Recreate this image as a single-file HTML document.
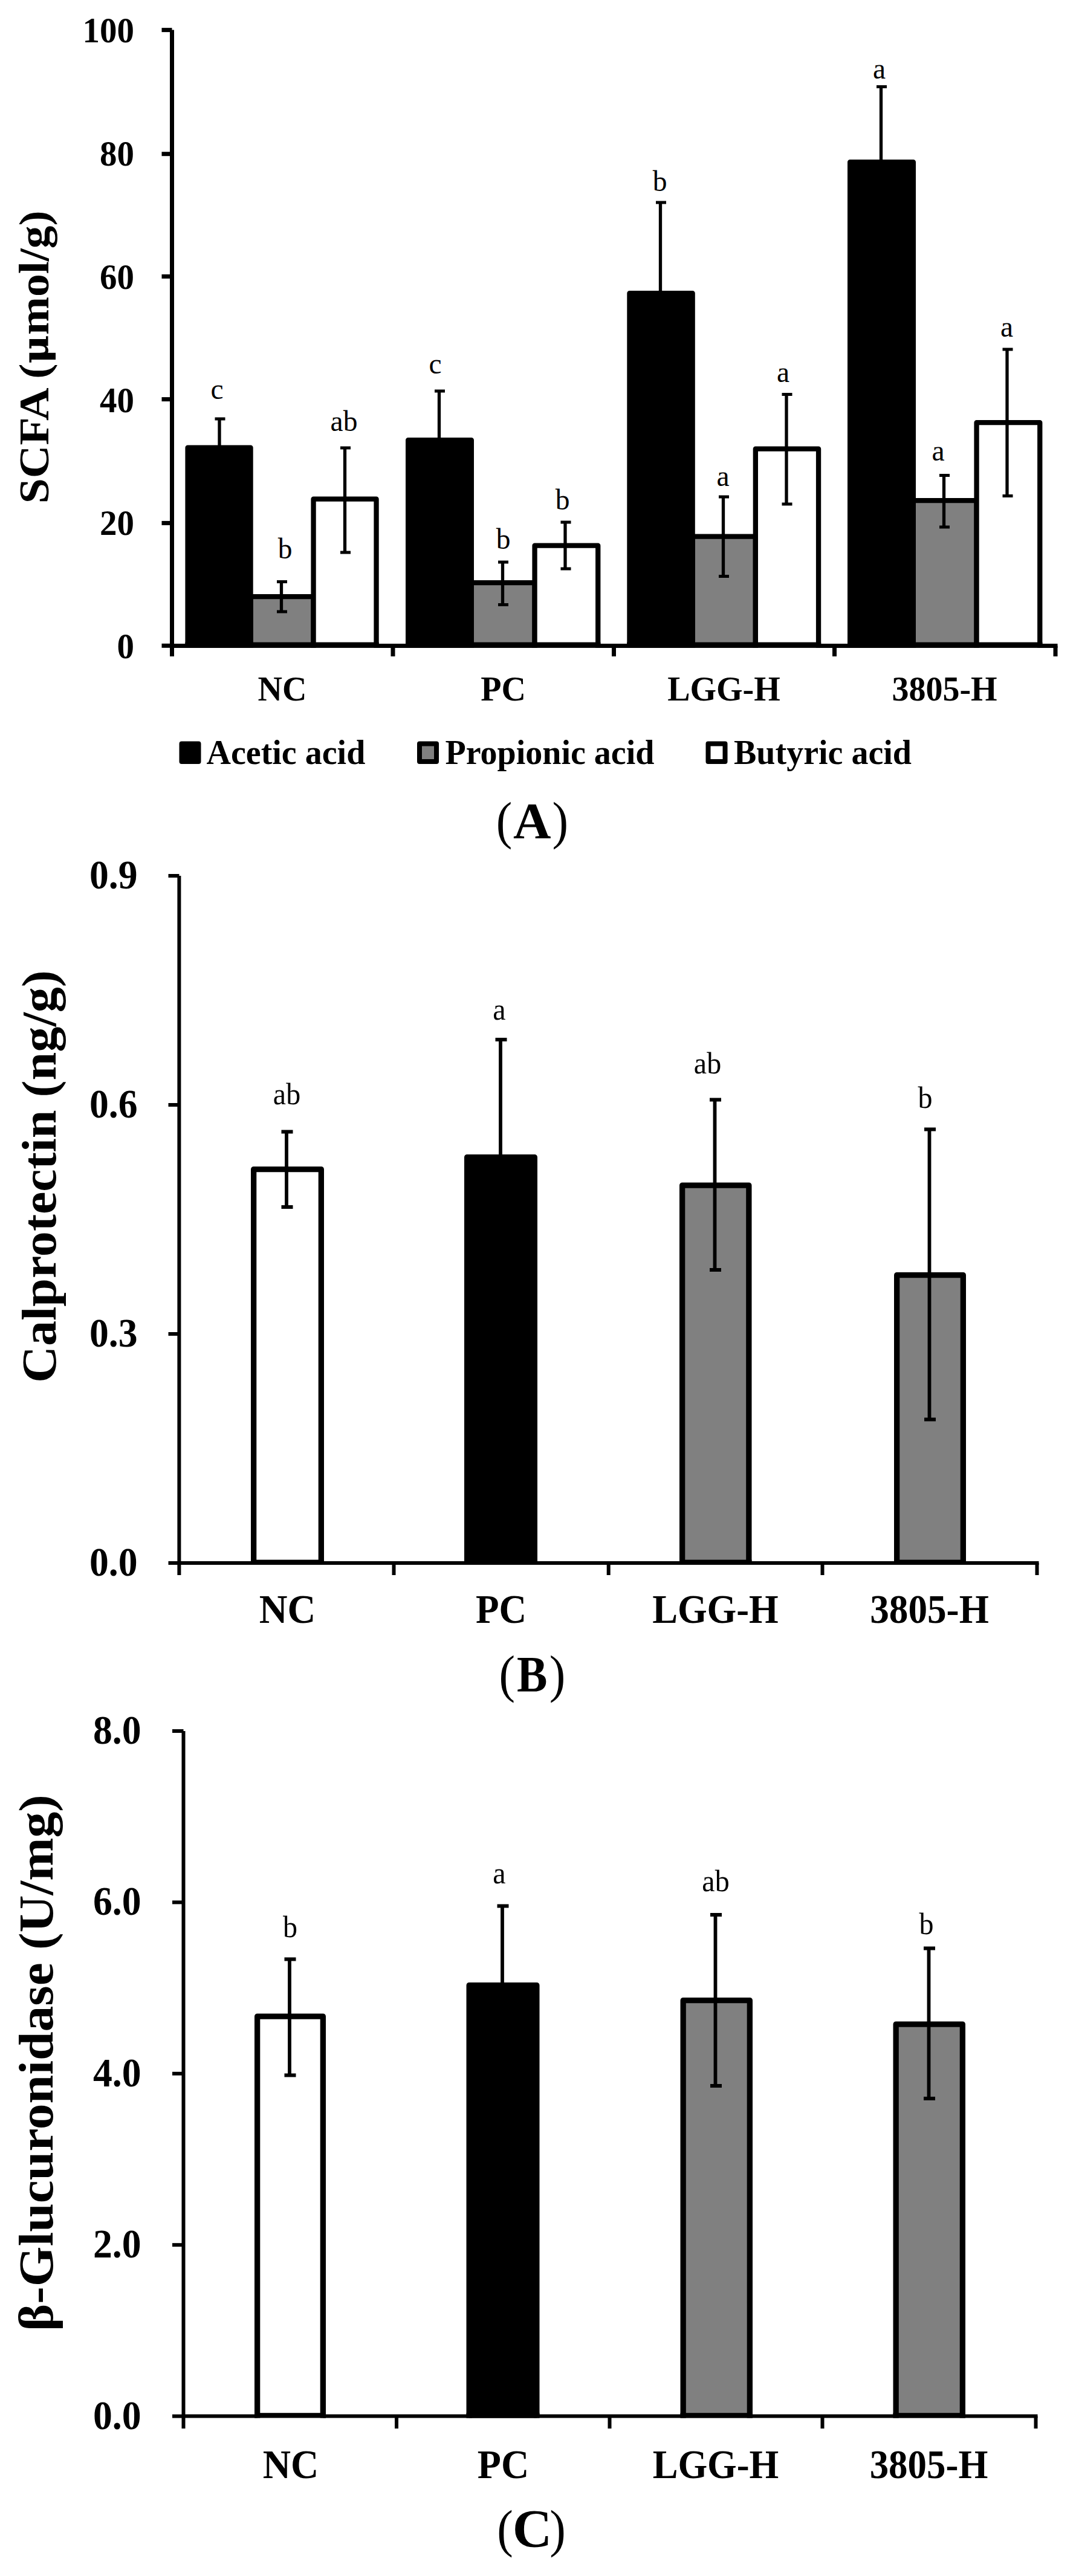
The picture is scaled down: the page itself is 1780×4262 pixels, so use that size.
<!DOCTYPE html>
<html lang="en"><head><meta charset="utf-8"><title>Figure</title>
<style>
html,body{margin:0;padding:0;background:#fff}
svg{display:block}
text{font-family:"Liberation Serif","DejaVu Serif",serif;fill:#000}
.b{font-weight:bold}
.r{font-weight:normal}
</style></head><body>
<svg width="1780" height="4262" viewBox="0 0 1780 4262">
<rect width="1780" height="4262" fill="#fff"/>
<path d="M284.5 49.6V1086" stroke="#000" stroke-width="7" fill="none"/>
<path d="M267.5 49.60H284.5" stroke="#000" stroke-width="7" fill="none"/>
<text transform="translate(222 70.2) scale(1 1.045)" font-size="57" text-anchor="end" class="b">100</text>
<path d="M267.5 254.70H284.5" stroke="#000" stroke-width="7" fill="none"/>
<text transform="translate(222 274.0) scale(1 1.045)" font-size="57" text-anchor="end" class="b">80</text>
<path d="M267.5 457.40H284.5" stroke="#000" stroke-width="7" fill="none"/>
<text transform="translate(222 477.7) scale(1 1.045)" font-size="57" text-anchor="end" class="b">60</text>
<path d="M267.5 660.60H284.5" stroke="#000" stroke-width="7" fill="none"/>
<text transform="translate(222 681.5) scale(1 1.045)" font-size="57" text-anchor="end" class="b">40</text>
<path d="M267.5 865.40H284.5" stroke="#000" stroke-width="7" fill="none"/>
<text transform="translate(222 885.2) scale(1 1.045)" font-size="57" text-anchor="end" class="b">20</text>
<path d="M267.5 1068.30H284.5" stroke="#000" stroke-width="7" fill="none"/>
<text transform="translate(222 1089.0) scale(1 1.045)" font-size="57" text-anchor="end" class="b">0</text>
<path d="M284.5 1068.40H1749.5" stroke="#000" stroke-width="7" fill="none"/>
<path d="M650 1068.40V1086" stroke="#000" stroke-width="7" fill="none"/>
<path d="M1015.5 1068.40V1086" stroke="#000" stroke-width="7" fill="none"/>
<path d="M1380.5 1068.40V1086" stroke="#000" stroke-width="7" fill="none"/>
<path d="M1746 1068.40V1086" stroke="#000" stroke-width="7" fill="none"/>
<text transform="translate(80.3 590.75) rotate(-90) scale(1.08 1)" font-size="70" text-anchor="middle" class="b">SCFA (<tspan style="font-family:'DejaVu Serif',serif" font-size="60">μ</tspan>mol/g)</text>
<clipPath id="cA"><rect x="0" y="0" width="1780" height="1071.90"/></clipPath><g clip-path="url(#cA)">
<rect x="414.55" y="987.15" width="104.00" height="104.75" fill="#808080" stroke="#000" stroke-width="8.3" stroke-linejoin="round"/>
<rect x="410.40" y="1062.60" width="112.30" height="9.3" fill="#000"/>
<rect x="310.55" y="740.65" width="104.00" height="351.25" fill="#000" stroke="#000" stroke-width="8.3" stroke-linejoin="round"/>
<rect x="306.40" y="1062.60" width="112.30" height="9.3" fill="#000"/>
<rect x="518.55" y="825.65" width="104.00" height="266.25" fill="#fff" stroke="#000" stroke-width="8.3" stroke-linejoin="round"/>
<rect x="514.40" y="1062.60" width="112.30" height="9.3" fill="#000"/>
<rect x="779.85" y="964.15" width="104.70" height="127.75" fill="#808080" stroke="#000" stroke-width="8.3" stroke-linejoin="round"/>
<rect x="775.70" y="1062.60" width="113.00" height="9.3" fill="#000"/>
<rect x="675.15" y="728.15" width="104.70" height="363.75" fill="#000" stroke="#000" stroke-width="8.3" stroke-linejoin="round"/>
<rect x="671.00" y="1062.60" width="113.00" height="9.3" fill="#000"/>
<rect x="884.55" y="902.65" width="104.70" height="189.25" fill="#fff" stroke="#000" stroke-width="8.3" stroke-linejoin="round"/>
<rect x="880.40" y="1062.60" width="113.00" height="9.3" fill="#000"/>
<rect x="1145.65" y="887.65" width="104.20" height="204.25" fill="#808080" stroke="#000" stroke-width="8.3" stroke-linejoin="round"/>
<rect x="1141.50" y="1062.60" width="112.50" height="9.3" fill="#000"/>
<rect x="1041.45" y="485.15" width="104.20" height="606.75" fill="#000" stroke="#000" stroke-width="8.3" stroke-linejoin="round"/>
<rect x="1037.30" y="1062.60" width="112.50" height="9.3" fill="#000"/>
<rect x="1249.85" y="742.65" width="104.20" height="349.25" fill="#fff" stroke="#000" stroke-width="8.3" stroke-linejoin="round"/>
<rect x="1245.70" y="1062.60" width="112.50" height="9.3" fill="#000"/>
<rect x="1510.85" y="828.15" width="104.70" height="263.75" fill="#808080" stroke="#000" stroke-width="8.3" stroke-linejoin="round"/>
<rect x="1506.70" y="1062.60" width="113.00" height="9.3" fill="#000"/>
<rect x="1406.15" y="268.15" width="104.70" height="823.75" fill="#000" stroke="#000" stroke-width="8.3" stroke-linejoin="round"/>
<rect x="1402.00" y="1062.60" width="113.00" height="9.3" fill="#000"/>
<rect x="1615.55" y="699.15" width="104.70" height="392.75" fill="#fff" stroke="#000" stroke-width="8.3" stroke-linejoin="round"/>
<rect x="1611.40" y="1062.60" width="113.00" height="9.3" fill="#000"/>
</g>
<path d="M363 693V788" stroke="#000" stroke-width="5.3" fill="none"/>
<path d="M355.5 693H372.5M355.5 788H372.5" stroke="#000" stroke-width="5.1" fill="none"/>
<path d="M465.5 962.5V1012" stroke="#000" stroke-width="5.3" fill="none"/>
<path d="M458.0 962.5H475.0M458.0 1012H475.0" stroke="#000" stroke-width="5.1" fill="none"/>
<path d="M570.5 741V914" stroke="#000" stroke-width="5.3" fill="none"/>
<path d="M563.0 741H580.0M563.0 914H580.0" stroke="#000" stroke-width="5.1" fill="none"/>
<path d="M726.5 647V800" stroke="#000" stroke-width="5.3" fill="none"/>
<path d="M719.0 647H736.0M719.0 800H736.0" stroke="#000" stroke-width="5.1" fill="none"/>
<path d="M831.5 930V1000.5" stroke="#000" stroke-width="5.3" fill="none"/>
<path d="M824.0 930H841.0M824.0 1000.5H841.0" stroke="#000" stroke-width="5.1" fill="none"/>
<path d="M935 864V941" stroke="#000" stroke-width="5.3" fill="none"/>
<path d="M927.5 864H944.5M927.5 941H944.5" stroke="#000" stroke-width="5.1" fill="none"/>
<path d="M1092.5 335V600" stroke="#000" stroke-width="5.3" fill="none"/>
<path d="M1085.0 335H1102.0M1085.0 600H1102.0" stroke="#000" stroke-width="5.1" fill="none"/>
<path d="M1196.5 822V953.5" stroke="#000" stroke-width="5.3" fill="none"/>
<path d="M1189.0 822H1206.0M1189.0 953.5H1206.0" stroke="#000" stroke-width="5.1" fill="none"/>
<path d="M1301 652.5V834" stroke="#000" stroke-width="5.3" fill="none"/>
<path d="M1293.5 652.5H1310.5M1293.5 834H1310.5" stroke="#000" stroke-width="5.1" fill="none"/>
<path d="M1457.5 143.5V380" stroke="#000" stroke-width="5.3" fill="none"/>
<path d="M1450.0 143.5H1467.0M1450.0 380H1467.0" stroke="#000" stroke-width="5.1" fill="none"/>
<path d="M1561.5 786.5V872" stroke="#000" stroke-width="5.3" fill="none"/>
<path d="M1554.0 786.5H1571.0M1554.0 872H1571.0" stroke="#000" stroke-width="5.1" fill="none"/>
<path d="M1666 578V820.5" stroke="#000" stroke-width="5.3" fill="none"/>
<path d="M1658.5 578H1675.5M1658.5 820.5H1675.5" stroke="#000" stroke-width="5.1" fill="none"/>
<text transform="translate(359 659.8) scale(1 1)" font-size="47.5" text-anchor="middle" class="r">c</text>
<text transform="translate(471.5 923.8) scale(1 1)" font-size="47.5" text-anchor="middle" class="r">b</text>
<text transform="translate(569 712.8) scale(1 1)" font-size="47.5" text-anchor="middle" class="r">ab</text>
<text transform="translate(720 617.8) scale(1 1)" font-size="47.5" text-anchor="middle" class="r">c</text>
<text transform="translate(832.5 908.3) scale(1 1)" font-size="47.5" text-anchor="middle" class="r">b</text>
<text transform="translate(930.5 843.3) scale(1 1)" font-size="47.5" text-anchor="middle" class="r">b</text>
<text transform="translate(1091.5 315.8) scale(1 1)" font-size="47.5" text-anchor="middle" class="r">b</text>
<text transform="translate(1196 803.8) scale(1 1)" font-size="47.5" text-anchor="middle" class="r">a</text>
<text transform="translate(1295.5 631.8) scale(1 1)" font-size="47.5" text-anchor="middle" class="r">a</text>
<text transform="translate(1454.5 129.8) scale(1 1)" font-size="47.5" text-anchor="middle" class="r">a</text>
<text transform="translate(1552 762.3) scale(1 1)" font-size="47.5" text-anchor="middle" class="r">a</text>
<text transform="translate(1665.5 557.3) scale(1 1)" font-size="47.5" text-anchor="middle" class="r">a</text>
<text transform="translate(467 1158.7) scale(1 1.03)" font-size="56" text-anchor="middle" class="b">NC</text>
<text transform="translate(832.5 1158.7) scale(1 1.03)" font-size="56" text-anchor="middle" class="b">PC</text>
<text transform="translate(1197.5 1158.7) scale(1 1.03)" font-size="56" text-anchor="middle" class="b">LGG-H</text>
<text transform="translate(1562.5 1158.7) scale(1 1.03)" font-size="56" text-anchor="middle" class="b">3805-H</text>
<rect x="300.50" y="1230.50" width="28.00" height="29.50" fill="#000" stroke="#000" stroke-width="8" stroke-linejoin="round"/>
<text transform="translate(341.5 1264) scale(1 1)" font-size="56" text-anchor="start" class="b">Acetic acid</text>
<rect x="694.00" y="1230.50" width="28.00" height="29.50" fill="#808080" stroke="#000" stroke-width="8" stroke-linejoin="round"/>
<text transform="translate(736.5 1264) scale(1 1)" font-size="56" text-anchor="start" class="b">Propionic acid</text>
<rect x="1171.50" y="1230.50" width="28.00" height="29.50" fill="#fff" stroke="#000" stroke-width="8" stroke-linejoin="round"/>
<text transform="translate(1214 1264) scale(1 1)" font-size="56" text-anchor="start" class="b">Butyric acid</text>
<text transform="translate(820.77 1386.8) scale(0.95 1.02)" font-size="84" text-anchor="start" class="r">(</text>
<text transform="translate(880.3 1386.8) scale(1.03 1.0)" font-size="84" text-anchor="middle" class="b">A</text>
<text transform="translate(913.39 1386.8) scale(0.95 1.02)" font-size="84" text-anchor="start" class="r">)</text>
<path d="M296.4 1449V2606" stroke="#000" stroke-width="6" fill="none"/>
<path d="M278.5 1449.00H296.4" stroke="#000" stroke-width="6" fill="none"/>
<text transform="translate(227.5 1470.2) scale(1 1.07)" font-size="63.7" text-anchor="end" class="b">0.9</text>
<path d="M278.5 1828.00H296.4" stroke="#000" stroke-width="6" fill="none"/>
<text transform="translate(227.5 1849.2) scale(1 1.07)" font-size="63.7" text-anchor="end" class="b">0.6</text>
<path d="M278.5 2207.00H296.4" stroke="#000" stroke-width="6" fill="none"/>
<text transform="translate(227.5 2228.2) scale(1 1.07)" font-size="63.7" text-anchor="end" class="b">0.3</text>
<path d="M278.5 2586.00H296.4" stroke="#000" stroke-width="6" fill="none"/>
<text transform="translate(227.5 2607.2) scale(1 1.07)" font-size="63.7" text-anchor="end" class="b">0.0</text>
<path d="M296.4 2586.00H1718.5" stroke="#000" stroke-width="6" fill="none"/>
<path d="M651.5 2586.00V2606" stroke="#000" stroke-width="6" fill="none"/>
<path d="M1006.7 2586.00V2606" stroke="#000" stroke-width="6" fill="none"/>
<path d="M1360.5 2586.00V2606" stroke="#000" stroke-width="6" fill="none"/>
<path d="M1715.5 2586.00V2606" stroke="#000" stroke-width="6" fill="none"/>
<text transform="translate(92 1946.5) rotate(-90) scale(1.051 1)" font-size="80" text-anchor="middle" class="b">Calprotectin (ng/g)</text>
<clipPath id="cB"><rect x="0" y="0" width="1780" height="2589.00"/></clipPath><g clip-path="url(#cB)">
<rect x="419.65" y="1934.65" width="111.70" height="674.35" fill="#fff" stroke="#000" stroke-width="9.3" stroke-linejoin="round"/>
<rect x="415.00" y="2580.60" width="121.00" height="8.4" fill="#000"/>
<rect x="772.65" y="1914.65" width="111.70" height="694.35" fill="#000" stroke="#000" stroke-width="9.3" stroke-linejoin="round"/>
<rect x="768.00" y="2580.60" width="121.00" height="8.4" fill="#000"/>
<rect x="1128.65" y="1961.15" width="110.20" height="647.85" fill="#808080" stroke="#000" stroke-width="9.3" stroke-linejoin="round"/>
<rect x="1124.00" y="2580.60" width="119.50" height="8.4" fill="#000"/>
<rect x="1483.65" y="2109.65" width="109.70" height="499.35" fill="#808080" stroke="#000" stroke-width="9.3" stroke-linejoin="round"/>
<rect x="1479.00" y="2580.60" width="119.00" height="8.4" fill="#000"/>
</g>
<path d="M474 1872.5V1997" stroke="#000" stroke-width="5.8" fill="none"/>
<path d="M465.5 1872.5H484.5M465.5 1997H484.5" stroke="#000" stroke-width="6" fill="none"/>
<path d="M828 1720V2100" stroke="#000" stroke-width="5.8" fill="none"/>
<path d="M819.5 1720H838.5M819.5 2100H838.5" stroke="#000" stroke-width="6" fill="none"/>
<path d="M1182.5 1819.5V2101" stroke="#000" stroke-width="5.8" fill="none"/>
<path d="M1174.0 1819.5H1193.0M1174.0 2101H1193.0" stroke="#000" stroke-width="6" fill="none"/>
<path d="M1537.5 1868.5V2348.5" stroke="#000" stroke-width="5.8" fill="none"/>
<path d="M1529.0 1868.5H1548.0M1529.0 2348.5H1548.0" stroke="#000" stroke-width="6" fill="none"/>
<text transform="translate(474.5 1827.3) scale(1 1.05)" font-size="48" text-anchor="middle" class="r">ab</text>
<text transform="translate(826 1687.3) scale(1 1.05)" font-size="48" text-anchor="middle" class="r">a</text>
<text transform="translate(1170.5 1775.8) scale(1 1.05)" font-size="48" text-anchor="middle" class="r">ab</text>
<text transform="translate(1530.5 1832.8) scale(1 1.05)" font-size="48" text-anchor="middle" class="r">b</text>
<text transform="translate(475.5 2685) scale(1.006 1.05)" font-size="64.4" text-anchor="middle" class="b">NC</text>
<text transform="translate(829 2685) scale(0.98 1.05)" font-size="64.4" text-anchor="middle" class="b">PC</text>
<text transform="translate(1183.5 2685) scale(0.972 1.05)" font-size="64.4" text-anchor="middle" class="b">LGG-H</text>
<text transform="translate(1537.5 2685) scale(0.982 1.05)" font-size="64.4" text-anchor="middle" class="b">3805-H</text>
<text transform="translate(825.47 2799) scale(0.95 1.02)" font-size="84" text-anchor="start" class="r">(</text>
<text transform="translate(880.2 2799) scale(0.9 1.0)" font-size="84" text-anchor="middle" class="b">B</text>
<text transform="translate(908.69 2799) scale(0.95 1.02)" font-size="84" text-anchor="start" class="r">)</text>
<path d="M303.5 2864V4018" stroke="#000" stroke-width="6" fill="none"/>
<path d="M285 2864.00H303.5" stroke="#000" stroke-width="6" fill="none"/>
<text transform="translate(233.5 2885.0) scale(1 1.07)" font-size="63.7" text-anchor="end" class="b">8.0</text>
<path d="M285 3147.40H303.5" stroke="#000" stroke-width="6" fill="none"/>
<text transform="translate(233.5 3168.4) scale(1 1.07)" font-size="63.7" text-anchor="end" class="b">6.0</text>
<path d="M285 3430.80H303.5" stroke="#000" stroke-width="6" fill="none"/>
<text transform="translate(233.5 3451.8) scale(1 1.07)" font-size="63.7" text-anchor="end" class="b">4.0</text>
<path d="M285 3714.20H303.5" stroke="#000" stroke-width="6" fill="none"/>
<text transform="translate(233.5 3735.2) scale(1 1.07)" font-size="63.7" text-anchor="end" class="b">2.0</text>
<path d="M285 3997.60H303.5" stroke="#000" stroke-width="6" fill="none"/>
<text transform="translate(233.5 4018.6) scale(1 1.07)" font-size="63.7" text-anchor="end" class="b">0.0</text>
<path d="M303.5 3997.60H1716.5" stroke="#000" stroke-width="6" fill="none"/>
<path d="M656 3997.60V4018" stroke="#000" stroke-width="6" fill="none"/>
<path d="M1008.5 3997.60V4018" stroke="#000" stroke-width="6" fill="none"/>
<path d="M1360.5 3997.60V4018" stroke="#000" stroke-width="6" fill="none"/>
<path d="M1713.5 3997.60V4018" stroke="#000" stroke-width="6" fill="none"/>
<text transform="translate(86.6 3413) rotate(-90) scale(1.07 1)" font-size="80" text-anchor="middle" class="b">β-Glucuronidase (U/mg)</text>
<clipPath id="cC"><rect x="0" y="0" width="1780" height="4000.60"/></clipPath><g clip-path="url(#cC)">
<rect x="425.65" y="3336.15" width="108.70" height="684.45" fill="#fff" stroke="#000" stroke-width="9.3" stroke-linejoin="round"/>
<rect x="421.00" y="3992.20" width="118.00" height="8.4" fill="#000"/>
<rect x="776.15" y="3284.65" width="111.70" height="735.95" fill="#000" stroke="#000" stroke-width="9.3" stroke-linejoin="round"/>
<rect x="771.50" y="3992.20" width="121.00" height="8.4" fill="#000"/>
<rect x="1130.15" y="3309.65" width="110.20" height="710.95" fill="#808080" stroke="#000" stroke-width="9.3" stroke-linejoin="round"/>
<rect x="1125.50" y="3992.20" width="119.50" height="8.4" fill="#000"/>
<rect x="1482.15" y="3349.15" width="110.20" height="671.45" fill="#808080" stroke="#000" stroke-width="9.3" stroke-linejoin="round"/>
<rect x="1477.50" y="3992.20" width="119.50" height="8.4" fill="#000"/>
</g>
<path d="M479 3241.5V3433.5" stroke="#000" stroke-width="5.8" fill="none"/>
<path d="M470.5 3241.5H489.5M470.5 3433.5H489.5" stroke="#000" stroke-width="6" fill="none"/>
<path d="M831 3153.5V3400" stroke="#000" stroke-width="5.8" fill="none"/>
<path d="M822.5 3153.5H841.5M822.5 3400H841.5" stroke="#000" stroke-width="6" fill="none"/>
<path d="M1183.5 3168V3451" stroke="#000" stroke-width="5.8" fill="none"/>
<path d="M1175.0 3168H1194.0M1175.0 3451H1194.0" stroke="#000" stroke-width="6" fill="none"/>
<path d="M1536.5 3223.5V3472" stroke="#000" stroke-width="5.8" fill="none"/>
<path d="M1528.0 3223.5H1547.0M1528.0 3472H1547.0" stroke="#000" stroke-width="6" fill="none"/>
<text transform="translate(480 3204.8) scale(1 1.05)" font-size="48" text-anchor="middle" class="r">b</text>
<text transform="translate(826 3116.3) scale(1 1.05)" font-size="48" text-anchor="middle" class="r">a</text>
<text transform="translate(1184 3128.8) scale(1 1.05)" font-size="48" text-anchor="middle" class="r">ab</text>
<text transform="translate(1532.5 3200.3) scale(1 1.05)" font-size="48" text-anchor="middle" class="r">b</text>
<text transform="translate(481 4100) scale(0.994 1.05)" font-size="64.4" text-anchor="middle" class="b">NC</text>
<text transform="translate(832.5 4100) scale(0.994 1.05)" font-size="64.4" text-anchor="middle" class="b">PC</text>
<text transform="translate(1184 4100) scale(0.972 1.05)" font-size="64.4" text-anchor="middle" class="b">LGG-H</text>
<text transform="translate(1536.5 4100) scale(0.977 1.05)" font-size="64.4" text-anchor="middle" class="b">3805-H</text>
<text transform="translate(822.17 4212.5) scale(0.95 1.02)" font-size="84" text-anchor="start" class="r">(</text>
<text transform="translate(880.4 4212.5) scale(1.08 1.055)" font-size="84" text-anchor="middle" class="b">C</text>
<text transform="translate(909.19 4212.5) scale(0.95 1.02)" font-size="84" text-anchor="start" class="r">)</text>
</svg>
</body></html>
